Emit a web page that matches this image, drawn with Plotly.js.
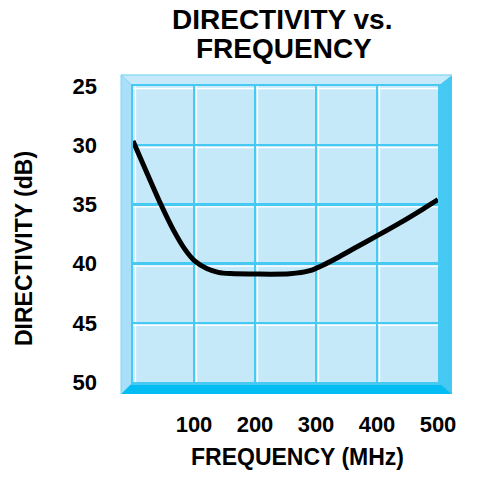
<!DOCTYPE html>
<html>
<head>
<meta charset="utf-8">
<script src="https://cdn.plot.ly/plotly-3.0.1.min.js"></script>
<style>
html,body{margin:0;padding:0;background:#fff;}
#chart{width:478px;height:481px;}
</style>
</head>
<body>
<div id="chart"></div>
<script>
// Data
const frequencyMHz = [0, 22.5, 45.4, 66.1, 85.2, 101.6, 120.8, 139.8, 159, 257, 290, 312, 339, 366.7, 402, 437.7, 476, 500];
const directivityDb = [29.65, 32.3, 34.97, 37.15, 38.8, 39.8, 40.42, 40.74, 40.84, 40.86, 40.6, 40.12, 39.4, 38.6, 37.6, 36.56, 35.37, 34.6];
const xTickVals = [100, 200, 300, 400, 500];
const xTickText = ['100', '200', '300', '400', '500'];
const yTickVals = [25, 30, 35, 40, 45, 50];
const yTickText = ['25', '30', '35', '40', '45', '50'];

const FONT = 'Liberation Sans, Arial, Helvetica, sans-serif';
const GRID = '#46c9f3';
const FILL = '#c6e9f9';

// plot area in pixels
const L = 133, R = 438, T = 86, B = 382, W = 478, H = 481;
const px = x => (x - L) / (R - L);
const py = y => (B - y) / (B - T);
// outer frame
const OL = 121, OR = 452, OT = 75, OB = 394;

function poly(pts, color) {
  let d = 'M' + pts.map(p => px(p[0]).toFixed(5) + ',' + py(p[1]).toFixed(5)).join(' L') + ' Z';
  return {type: 'path', xref: 'paper', yref: 'paper', path: d, fillcolor: color, line: {width: 0}, layer: 'below'};
}

const shapes = [
  // bevels
  poly([[OL, OT], [OR, OT], [R, T], [L, T]], FILL),           // top
  poly([[OL, OT], [L, T], [L, B], [OL, OB]], '#a9dff8'),       // left
  poly([[OR, OT], [OR, OB], [R, B], [R, T]], '#45c9f3'),       // right
  poly([[OL, OB], [L, B], [R, B], [OR, OB]], '#02bcf2'),       // bottom
  {type: 'line', xref: 'paper', yref: 'paper', x0: px(OL), x1: px(OR), y0: py(OT), y1: py(OT), line: {color: '#8edcf6', width: 1.5}, layer: 'below'},
  {type: 'line', xref: 'paper', yref: 'paper', x0: px(OL), x1: px(L), y0: py(OT), y1: py(T), line: {color: '#7fd6f4', width: 1}, layer: 'below'},
  {type: 'line', xref: 'paper', yref: 'paper', x0: px(OL), x1: px(OL), y0: py(OT), y1: py(OB), line: {color: '#7fd6f4', width: 1}, layer: 'below'},
  {type: 'line', xref: 'paper', yref: 'paper', x0: px(OR), x1: px(R), y0: py(OB), y1: py(B), line: {color: '#31c2f0', width: 1}, layer: 'below'},
  // inner plot background
  {type: 'rect', xref: 'paper', yref: 'paper', x0: 0, x1: 1, y0: 0, y1: 1, fillcolor: FILL, line: {width: 0}, layer: 'below'}
];
// white highlights next to grid lines
[0, 100, 200, 300, 400].forEach(v => {
  shapes.push({type: 'line', xref: 'x', yref: 'paper', xsizemode: 'pixel', xanchor: v, x0: 2.5, x1: 2.5, y0: 0, y1: 1,
    line: {color: '#ffffff', width: 1.3}, layer: 'below'});
});
[25, 30, 35, 40, 45].forEach(v => {
  shapes.push({type: 'line', xref: 'paper', yref: 'y', ysizemode: 'pixel', yanchor: v, y0: -2.5, y1: -2.5, x0: 0, x1: 1,
    line: {color: '#ffffff', width: 1.3}, layer: 'below'});
});

const trace = {
  x: frequencyMHz, y: directivityDb, type: 'scatter', mode: 'lines',
  line: {color: '#000000', width: 5, shape: 'spline', smoothing: 0.7},
  hoverinfo: 'skip'
};

const layout = {
  width: W, height: H,
  margin: {l: L, r: W - R, t: T, b: H - B, pad: 0},
  paper_bgcolor: '#ffffff',
  plot_bgcolor: 'rgba(0,0,0,0)',
  showlegend: false,
  font: {family: FONT, color: '#000'},
  xaxis: {
    range: [0, 500], tickvals: xTickVals, ticktext: xTickText,
    showgrid: true, gridcolor: GRID, gridwidth: 2.5,
    zeroline: false, showline: true, mirror: true, linecolor: GRID, linewidth: 2.5,
    ticks: '', ticklabelstandoff: 21,
    tickfont: {family: FONT, size: 22, color: '#000', weight: 'bold'}
  },
  yaxis: {
    range: [50, 25], tickvals: yTickVals, ticktext: yTickText,
    showgrid: true, gridcolor: GRID, gridwidth: 2.5,
    zeroline: false, showline: true, mirror: true, linecolor: GRID, linewidth: 2.5,
    ticks: '', ticklabelstandoff: 29,
    tickfont: {family: FONT, size: 22, color: '#000', weight: 'bold'}
  },
  shapes: shapes,
  annotations: [
    {text: '<b>DIRECTIVITY vs.</b>', xref: 'paper', yref: 'paper', x: px(282), y: py(19), xanchor: 'center', yanchor: 'middle',
      showarrow: false, font: {family: FONT, size: 28, color: '#000'}},
    {text: '<b>FREQUENCY</b>', xref: 'paper', yref: 'paper', x: px(284), y: py(48), xanchor: 'center', yanchor: 'middle',
      showarrow: false, font: {family: FONT, size: 28, color: '#000'}},
    {text: '<b>FREQUENCY (MHz)</b>', xref: 'paper', yref: 'paper', x: px(297), y: py(457), xanchor: 'center', yanchor: 'middle',
      showarrow: false, font: {family: FONT, size: 23, color: '#000'}},
    {text: '<b>DIRECTIVITY (dB)</b>', xref: 'paper', yref: 'paper', x: px(24), y: py(249), xanchor: 'center', yanchor: 'middle',
      textangle: -90, showarrow: false, font: {family: FONT, size: 23, color: '#000'}}
  ]
};

Plotly.newPlot('chart', [trace], layout, {staticPlot: true, displayModeBar: false});
</script>
</body>
</html>
